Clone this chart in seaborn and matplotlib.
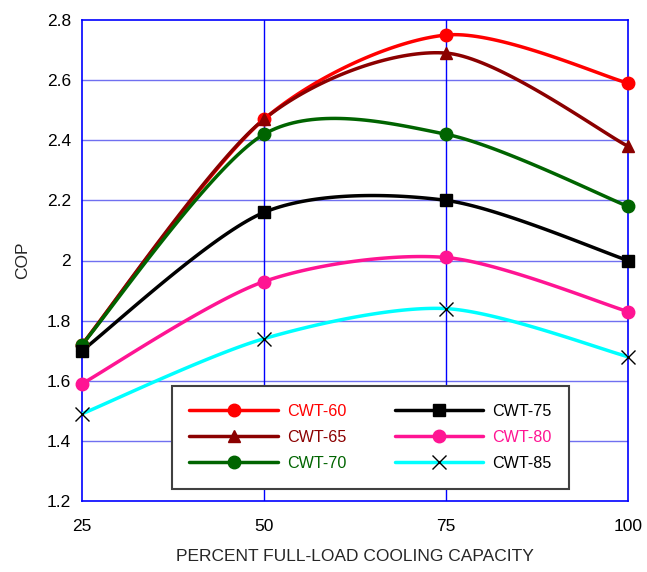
import numpy as np
import seaborn as sns
import matplotlib.pyplot as plt
from matplotlib.lines import Line2D

# percent full-load cooling capacity
CAPACITY = [25, 50, 75, 100]

# COP per condenser water temperature
CWT_60 = [1.72, 2.47, 2.75, 2.59]
CWT_65 = [1.72, 2.47, 2.69, 2.38]
CWT_70 = [1.72, 2.42, 2.42, 2.18]
CWT_75 = [1.70, 2.16, 2.20, 2.00]
CWT_80 = [1.59, 1.93, 2.01, 1.83]
CWT_85 = [1.49, 1.74, 1.84, 1.68]

SERIES_NAMES = ["CWT-60", "CWT-65", "CWT-70", "CWT-75", "CWT-80", "CWT-85"]
Y_TICKS = [1.2, 1.4, 1.6, 1.8, 2.0, 2.2, 2.4, 2.6, 2.8]
Y_TICK_LABELS = ["1.2", "1.4", "1.6", "1.8", "2", "2.2", "2.4", "2.6", "2.8"]


def smooth(xs, ys, n=40, k=0.85):
    # catmull-rom through the points, close to excel's smoothed lines
    pts = np.column_stack([xs, ys]).astype(float)
    pad = np.vstack([pts[0], pts, pts[-1]])
    tang = k * 0.5 * (pad[2:] - pad[:-2])
    t = np.linspace(0, 1, n, endpoint=False)[:, None]
    h00 = 2 * t ** 3 - 3 * t ** 2 + 1
    h10 = t ** 3 - 2 * t ** 2 + t
    h01 = -2 * t ** 3 + 3 * t ** 2
    h11 = t ** 3 - t ** 2
    segs = []
    for i in range(len(pts) - 1):
        segs.append(h00 * pts[i] + h10 * tang[i] + h01 * pts[i + 1] + h11 * tang[i + 1])
    segs.append(pts[-1][None])
    return np.vstack(segs)


def main():
    sns.set_style("white")
    plt.rcParams["font.family"] = ["Liberation Sans", "DejaVu Sans"]

    series = [CWT_60, CWT_65, CWT_70, CWT_75, CWT_80, CWT_85]
    colors = ["#FF0000", "#8B0000", "#006400", "#000000", "#FF1493", "#00FFFF"]
    text_colors = ["#FF0000", "#8B0000", "#006400", "#000000", "#FF1493", "#000000"]
    markers = ["o", "^", "o", "s", "o", "x"]
    msizes = [9, 9, 9, 9, 9, 10]
    mecs = ["#FF0000", "#8B0000", "#006400", "#000000", "#FF1493", "#000000"]

    fig = plt.figure(figsize=(6.47, 5.72), dpi=100)
    ax = fig.add_axes([82 / 647, 1 - 501 / 572, (628 - 82) / 647, (501 - 20) / 572])

    ax.set_xlim(25, 100)
    ax.set_ylim(1.2, 2.8)
    ax.set_xticks(CAPACITY)
    ax.set_yticks(Y_TICKS)
    ax.set_yticklabels(Y_TICK_LABELS)
    ax.tick_params(axis="both", length=0, labelsize=12.5, colors="#000000")
    ax.tick_params(axis="x", pad=13)
    ax.tick_params(axis="y", pad=8)

    for y in Y_TICKS[1:-1]:
        ax.axhline(y, color="#7070F0", lw=1.0, zorder=1)
    for x in CAPACITY[1:-1]:
        ax.axvline(x, color="#0000FF", lw=1.0, zorder=1)
    for sp in ax.spines.values():
        sp.set_color("#0000FF")
        sp.set_linewidth(1.2)

    # draw dark red under red
    order = [1, 0, 2, 3, 4, 5]
    for i in order:
        curve = smooth(CAPACITY, series[i])
        sns.lineplot(x=curve[:, 0], y=curve[:, 1], sort=False, estimator=None,
                     color=colors[i], lw=2.5, ax=ax, zorder=3 + i * 0.1)
        ax.plot(CAPACITY, series[i], ls="none", marker=markers[i], ms=msizes[i],
                color=colors[i], mec=mecs[i], mew=1.0,
                zorder=4 + i * 0.1, clip_on=False)

    handles = [Line2D([], [], color=colors[i], lw=2.5, marker=markers[i],
                      ms=msizes[i], mec=mecs[i], mew=1.0) for i in range(6)]
    leg = ax.legend(handles, SERIES_NAMES, ncol=2, fontsize=11.6,
                    loc="center",
                    bbox_to_anchor=(175 / 647, 1 - 488 / 572, (566 - 175) / 647, (488 - 387) / 572),
                    bbox_transform=fig.transFigure,
                    handlelength=5.5, handletextpad=0.56, columnspacing=3.0,
                    labelspacing=0.68, borderpad=1.1, fancybox=False, framealpha=1)
    leg.get_frame().set_edgecolor("#404040")
    leg.get_frame().set_linewidth(1.5)
    leg.set_zorder(10)
    for txt, c in zip(leg.get_texts(), text_colors):
        txt.set_color(c)

    ax.set_xlabel("PERCENT FULL-LOAD COOLING CAPACITY", fontsize=12.5, labelpad=11)
    ax.set_ylabel("COP", fontsize=12.5, labelpad=12)

    fig.savefig("out.png", dpi=100)
    plt.close(fig)


if __name__ == "__main__":
    main()
